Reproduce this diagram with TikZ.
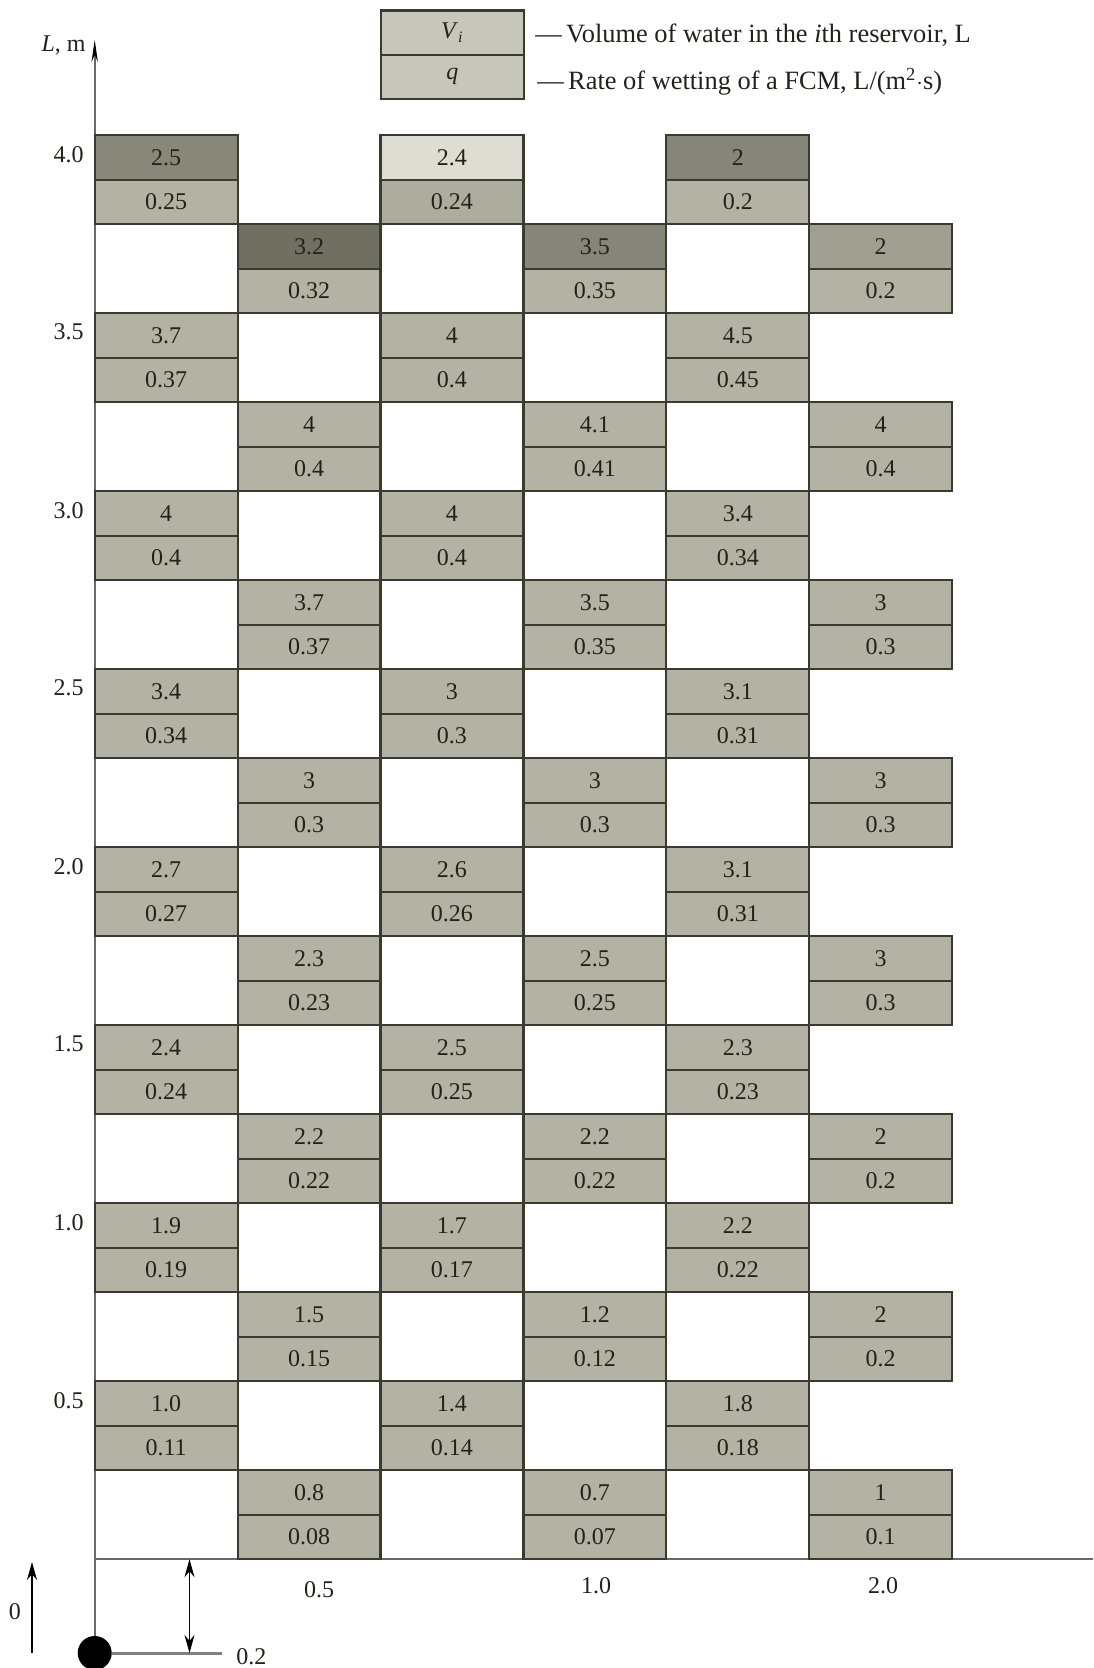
\documentclass[tikz,border=0pt]{standalone}
\usepackage{fontspec}
\setmainfont{Liberation Serif}
\usetikzlibrary{arrows.meta}
\definecolor{cellgray}{HTML}{B3B2A4}
\definecolor{leggray}{HTML}{C6C6BA}
\definecolor{gA}{HTML}{87877A}
\definecolor{gB}{HTML}{6F6F62}
\definecolor{gC}{HTML}{DDDDD3}
\definecolor{gD}{HTML}{85857A}
\definecolor{gE}{HTML}{A09F92}
\definecolor{gQ}{HTML}{ADAD9F}
\definecolor{border}{HTML}{3A3A2F}
\definecolor{txt}{HTML}{222219}
\definecolor{axisgray}{HTML}{6A6A60}
\begin{document}
\begin{tikzpicture}[x=0.5pt,y=-0.5pt,
  cellbox/.style={draw=border,line width=1.1pt,inner sep=0pt,minimum width=71.45pt,minimum height=22.25pt,text=txt,font=\fontsize{12}{14}\selectfont},
  lbl/.style={text=txt,font=\fontsize{12}{14}\selectfont,inner sep=0pt},
  leglbl/.style={text=txt,font=\fontsize{13.2}{15}\selectfont,inner sep=0pt},
  axisline/.style={draw=axisgray,line width=0.8pt}]
\useasboundingbox (0,0) rectangle (1093,1668);
% axes
\coordinate (O) at (94.7,1559.2);
\coordinate (ytop) at (94.7,40);
\coordinate (xend) at (1093,1559.2);
\draw[axisline,-{Stealth[length=11pt,width=3.2pt,black]}] (94.7,1653) -- (ytop);
\draw[axisline] (O) -- (xend);
\node[lbl,anchor=east] (Lm) at (86,45) {\textit{L}, m};
% cells
\foreach \c/\b/\v/\q/\fv/\fq in {
 1/0/2.5/0.25/gA/cellgray, 1/1/3.7/0.37/cellgray/cellgray, 1/2/4/0.4/cellgray/cellgray, 1/3/3.4/0.34/cellgray/cellgray,
 1/4/2.7/0.27/cellgray/cellgray, 1/5/2.4/0.24/cellgray/cellgray, 1/6/1.9/0.19/cellgray/cellgray, 1/7/1.0/0.11/cellgray/cellgray,
 3/0/2.4/0.24/gC/gQ, 3/1/4/0.4/cellgray/cellgray, 3/2/4/0.4/cellgray/cellgray, 3/3/3/0.3/cellgray/cellgray,
 3/4/2.6/0.26/cellgray/cellgray, 3/5/2.5/0.25/cellgray/cellgray, 3/6/1.7/0.17/cellgray/cellgray, 3/7/1.4/0.14/cellgray/cellgray,
 5/0/2/0.2/gD/cellgray, 5/1/4.5/0.45/cellgray/cellgray, 5/2/3.4/0.34/cellgray/cellgray, 5/3/3.1/0.31/cellgray/cellgray,
 5/4/3.1/0.31/cellgray/cellgray, 5/5/2.3/0.23/cellgray/cellgray, 5/6/2.2/0.22/cellgray/cellgray, 5/7/1.8/0.18/cellgray/cellgray,
 2/0/3.2/0.32/gB/cellgray, 2/1/4/0.4/cellgray/cellgray, 2/2/3.7/0.37/cellgray/cellgray, 2/3/3/0.3/cellgray/cellgray,
 2/4/2.3/0.23/cellgray/cellgray, 2/5/2.2/0.22/cellgray/cellgray, 2/6/1.5/0.15/cellgray/cellgray, 2/7/0.8/0.08/cellgray/cellgray,
 4/0/3.5/0.35/gD/cellgray, 4/1/4.1/0.41/cellgray/cellgray, 4/2/3.5/0.35/cellgray/cellgray, 4/3/3/0.3/cellgray/cellgray,
 4/4/2.5/0.25/cellgray/cellgray, 4/5/2.2/0.22/cellgray/cellgray, 4/6/1.2/0.12/cellgray/cellgray, 4/7/0.7/0.07/cellgray/cellgray,
 6/0/2/0.2/gE/cellgray, 6/1/4/0.4/cellgray/cellgray, 6/2/3/0.3/cellgray/cellgray, 6/3/3/0.3/cellgray/cellgray,
 6/4/3/0.3/cellgray/cellgray, 6/5/2/0.2/cellgray/cellgray, 6/6/2/0.2/cellgray/cellgray, 6/7/1/0.1/cellgray/cellgray}{
  \pgfmathsetmacro{\cx}{94.7+(\c-0.5)*142.9}
  \pgfmathsetmacro{\rr}{4*\b+(1-mod(\c,2))*2}
  \pgfmathsetmacro{\ty}{135.2+\rr*44.5}
  \node[cellbox,fill=\fv] (v-\c-\b) at (\cx,\ty+22.25) {\v};
  \node[cellbox,fill=\fq] (q-\c-\b) at (\cx,\ty+66.75) {\q};
}
% y tick labels
\foreach \b/\t in {0/4.0,1/3.5,2/3.0,3/2.5,4/2.0,5/1.5,6/1.0,7/0.5}{
  \pgfmathsetmacro{\ty}{135.2+4*\b*44.5}
  \node[lbl,anchor=east] (yl-\b) at (84,\ty+19) {\t};
}
% x tick labels
\node[lbl] (xl1) at (319,1590) {0.5};
\node[lbl] (xl2) at (596,1586) {1.0};
\node[lbl] (xl3) at (883,1586) {2.0};
% legend
\node[cellbox,fill=leggray] (legV) at (452.3,32.7) {\textit{V}\textsubscript{\textit{i}}};
\node[cellbox,fill=leggray] (legq) at (452.3,76.9) {\textit{q}};
\node[leglbl,anchor=west] (legVt) at (535,35) {---\,Volume of water in the \textit{i}th reservoir, L};
\node[leglbl,anchor=west] (legqt) at (537,82) {---\,Rate of wetting of a FCM, L/(m\textsuperscript{2}$\cdot$s)};
% bottom-left detail
\node[circle,fill=black,inner sep=0pt,minimum size=17pt] (dot) at (94.7,1653) {};
\coordinate (gend) at (221.6,1653);
\draw[draw=gray,line width=1.5pt] (dot) -- (gend);
\node[lbl,anchor=west] (lab02) at (236,1657) {0.2};
\coordinate (dA) at (189.5,1559.2);
\coordinate (dB) at (189.5,1653);
\draw[line width=0.6pt,{Stealth[length=9pt,width=5pt]}-{Stealth[length=9pt,width=5pt]}] (dA) -- (dB);
\coordinate (zA) at (32,1653);
\coordinate (zB) at (32,1562);
\draw[line width=0.6pt,-{Stealth[length=9pt,width=5pt]}] (zA) -- (zB);
\node[lbl] (lab0) at (15,1612) {0};
\end{tikzpicture}
\end{document}
